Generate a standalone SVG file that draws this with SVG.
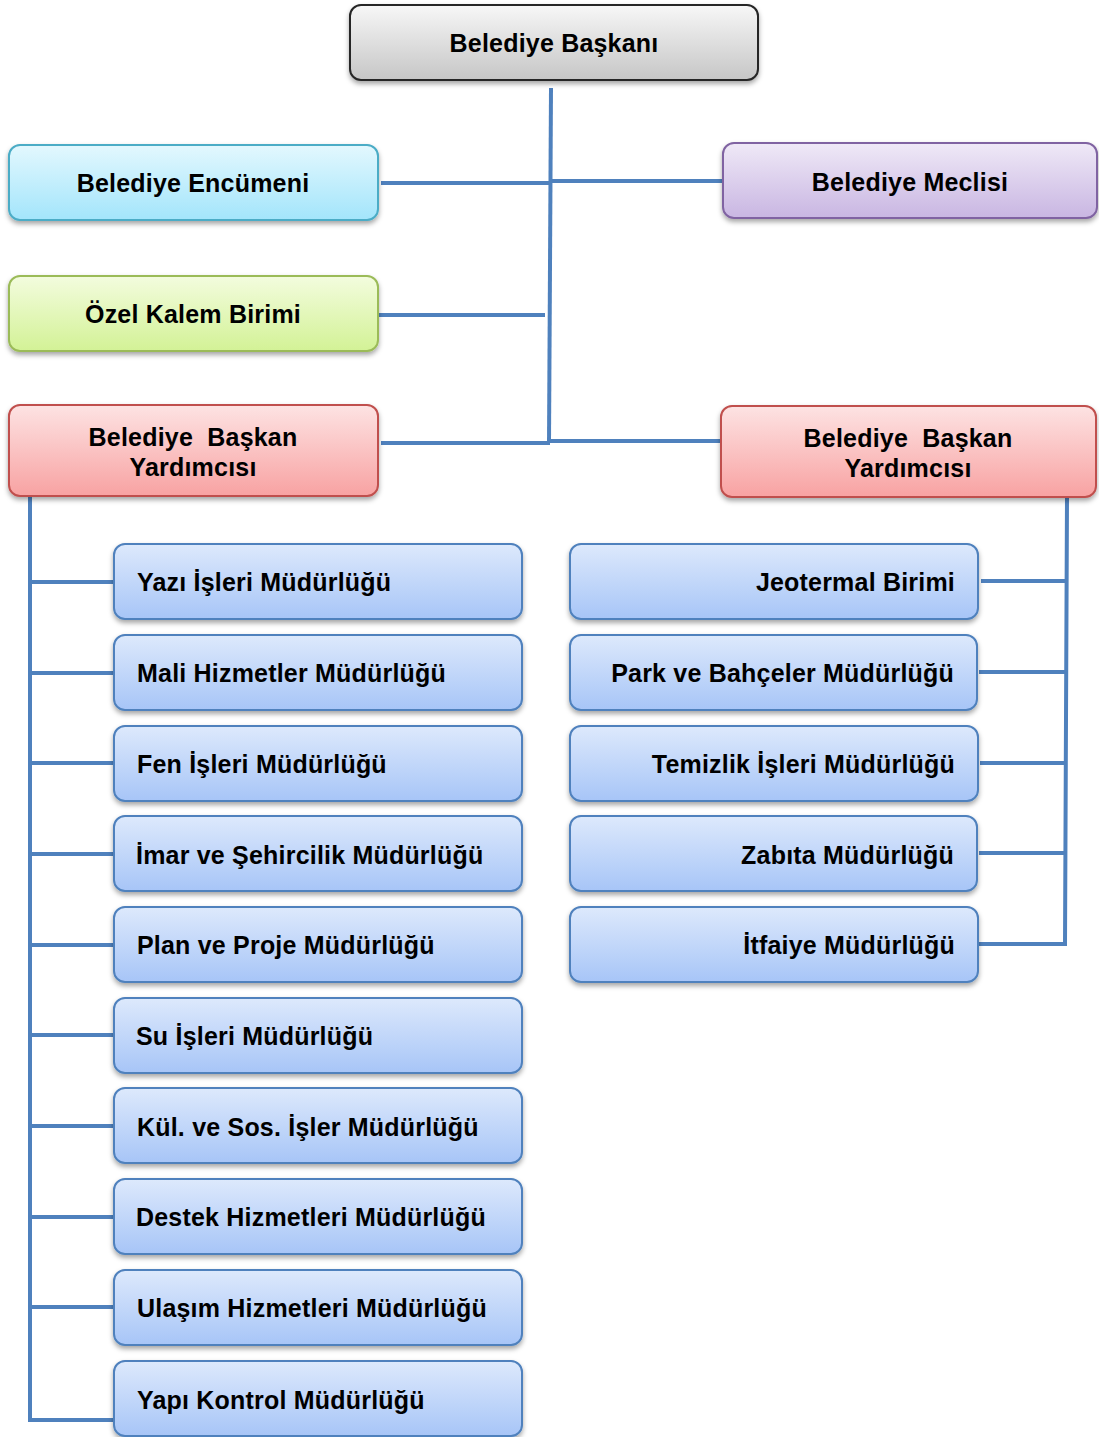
<svg xmlns="http://www.w3.org/2000/svg" width="1099" height="1437" viewBox="0 0 1099 1437">
<defs>
<linearGradient id="gGray" x1="0" y1="0" x2="0" y2="1"><stop offset="0" stop-color="#f7f7f7"/><stop offset="1" stop-color="#c6c6c6"/></linearGradient>
<linearGradient id="gCyan" x1="0" y1="0" x2="0" y2="1"><stop offset="0" stop-color="#e3f8fe"/><stop offset="1" stop-color="#a3e5fb"/></linearGradient>
<linearGradient id="gPurple" x1="0" y1="0" x2="0" y2="1"><stop offset="0" stop-color="#efe9f7"/><stop offset="1" stop-color="#c9b6e2"/></linearGradient>
<linearGradient id="gGreen" x1="0" y1="0" x2="0" y2="1"><stop offset="0" stop-color="#f3fcde"/><stop offset="1" stop-color="#d3f296"/></linearGradient>
<linearGradient id="gRed" x1="0" y1="0" x2="0" y2="1"><stop offset="0" stop-color="#fde3e3"/><stop offset="1" stop-color="#f8a2a2"/></linearGradient>
<linearGradient id="gBlue" x1="0" y1="0" x2="0" y2="1"><stop offset="0" stop-color="#dde9fc"/><stop offset="1" stop-color="#a7c5f7"/></linearGradient>
<filter id="sh" x="-5%" y="-10%" width="110%" height="130%"><feDropShadow dx="0" dy="3" stdDeviation="2.5" flood-color="#000" flood-opacity="0.35"/></filter>
<style>
.t{font-family:"Liberation Sans",Arial,sans-serif;font-weight:bold;font-size:25px;letter-spacing:0.2px;fill:#000}
.c{text-anchor:middle}
.r{text-anchor:end}
.box{stroke-width:2;filter:url(#sh)}
.gray{fill:url(#gGray);stroke:#262626}
.cyan{fill:url(#gCyan);stroke:#4bacc6}
.purple{fill:url(#gPurple);stroke:#8064a2}
.green{fill:url(#gGreen);stroke:#9bbb59}
.red{fill:url(#gRed);stroke:#c0504d}
.blue{fill:url(#gBlue);stroke:#4f81bd}
.ln{stroke:#4f81bd;stroke-width:4;fill:none}
</style>
</defs>
<g id="connectors" class="ln">
<path d="M551 88 L549 443"/>
<path d="M381 183 L550 183"/>
<path d="M550 181 L723 181"/>
<path d="M377 315 L545 315"/>
<path d="M381 443 L550 443"/>
<path d="M550 441 L721 441"/>
<path d="M30 497 L30 1420 L114 1420"/>
<path d="M28 582 L114 582"/>
<path d="M30 673 L114 673"/>
<path d="M30 763 L114 763"/>
<path d="M30 854 L114 854"/>
<path d="M30 945 L114 945"/>
<path d="M30 1035 L114 1035"/>
<path d="M28 1126 L114 1126"/>
<path d="M30 1217 L114 1217"/>
<path d="M30 1307 L114 1307"/>
<path d="M1067 497 L1065 944 L978 944"/>
<path d="M981 581 L1067 581"/>
<path d="M979 672 L1066 672"/>
<path d="M980 763 L1066 763"/>
<path d="M979 853 L1065 853"/>
</g>
<g id="n-baskan"><rect class="box gray" x="350" y="5" width="408" height="75" rx="11"/><text class="t c" x="554" y="52">Belediye Başkanı</text></g>
<g id="n-encumen"><rect class="box cyan" x="9" y="145" width="369" height="75" rx="11"/><text class="t c" x="193" y="192">Belediye Encümeni</text></g>
<g id="n-meclis"><rect class="box purple" x="723" y="143" width="374" height="75" rx="11"/><text class="t c" x="910" y="191">Belediye Meclisi</text></g>
<g id="n-ozel"><rect class="box green" x="9" y="276" width="369" height="75" rx="11"/><text class="t c" x="193" y="323">Özel Kalem Birimi</text></g>
<g id="n-bby-left"><rect class="box red" x="9" y="405" width="369" height="91" rx="11"/><text class="t c" x="193" y="446" xml:space="preserve">Belediye  Başkan</text><text class="t c" x="193" y="476">Yardımcısı</text></g>
<g id="n-bby-right"><rect class="box red" x="721" y="406" width="375" height="91" rx="11"/><text class="t c" x="908" y="447" xml:space="preserve">Belediye  Başkan</text><text class="t c" x="908" y="477">Yardımcısı</text></g>
<g id="n-yazi"><rect class="box blue" x="114" y="544" width="408" height="75" rx="11"/><text class="t" x="137" y="591">Yazı İşleri Müdürlüğü</text></g>
<g id="n-mali"><rect class="box blue" x="114" y="635" width="408" height="75" rx="11"/><text class="t" x="137" y="682">Mali Hizmetler Müdürlüğü</text></g>
<g id="n-fen"><rect class="box blue" x="114" y="726" width="408" height="75" rx="11"/><text class="t" x="137" y="773">Fen İşleri Müdürlüğü</text></g>
<g id="n-imar"><rect class="box blue" x="114" y="816" width="408" height="75" rx="11"/><text class="t" x="136" y="864">İmar ve Şehircilik Müdürlüğü</text></g>
<g id="n-plan"><rect class="box blue" x="114" y="907" width="408" height="75" rx="11"/><text class="t" x="137" y="954">Plan ve Proje Müdürlüğü</text></g>
<g id="n-su"><rect class="box blue" x="114" y="998" width="408" height="75" rx="11"/><text class="t" x="136" y="1045">Su İşleri Müdürlüğü</text></g>
<g id="n-kul"><rect class="box blue" x="114" y="1088" width="408" height="75" rx="11"/><text class="t" x="137" y="1136">Kül. ve Sos. İşler Müdürlüğü</text></g>
<g id="n-destek"><rect class="box blue" x="114" y="1179" width="408" height="75" rx="11"/><text class="t" x="136" y="1226">Destek Hizmetleri Müdürlüğü</text></g>
<g id="n-ulasim"><rect class="box blue" x="114" y="1270" width="408" height="75" rx="11"/><text class="t" x="137" y="1317">Ulaşım Hizmetleri Müdürlüğü</text></g>
<g id="n-yapi"><rect class="box blue" x="114" y="1361" width="408" height="75" rx="11"/><text class="t" x="137" y="1409">Yapı Kontrol Müdürlüğü</text></g>
<g id="n-jeo"><rect class="box blue" x="570" y="544" width="408" height="75" rx="11"/><text class="t r" x="955" y="591">Jeotermal Birimi</text></g>
<g id="n-park"><rect class="box blue" x="570" y="635" width="407" height="75" rx="11"/><text class="t r" x="954" y="682">Park ve Bahçeler Müdürlüğü</text></g>
<g id="n-temizlik"><rect class="box blue" x="570" y="726" width="408" height="75" rx="11"/><text class="t r" x="955" y="773">Temizlik İşleri Müdürlüğü</text></g>
<g id="n-zabita"><rect class="box blue" x="570" y="816" width="407" height="75" rx="11"/><text class="t r" x="954" y="864">Zabıta Müdürlüğü</text></g>
<g id="n-itfaiye"><rect class="box blue" x="570" y="907" width="408" height="75" rx="11"/><text class="t r" x="955" y="954">İtfaiye Müdürlüğü</text></g>
</svg>
